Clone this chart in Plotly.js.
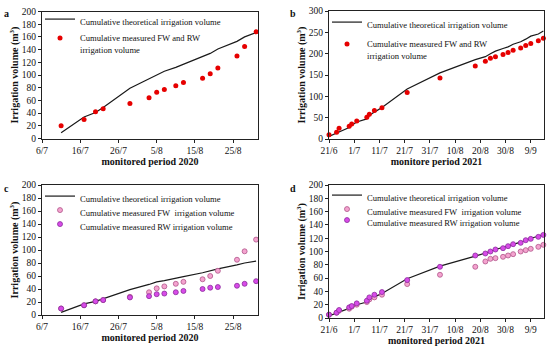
<!DOCTYPE html>
<html>
<head>
<meta charset="utf-8">
<script src="https://cdn.plot.ly/plotly-3.0.1.min.js"></script>
<style>html,body{margin:0;padding:0;background:#fff;}#chart{width:550px;height:354px;}</style>
</head>
<body>
<div id="chart"></div>
<script>
// ---- data ----
const dates2020 = ['2020-07-11','2020-07-17','2020-07-20','2020-07-22','2020-07-29','2020-08-03','2020-08-05','2020-08-07','2020-08-10','2020-08-12','2020-08-17','2020-08-19','2020-08-21','2020-08-26','2020-08-28','2020-08-31'];
const theo2020 = [9, 34, 41, 49, 79, 94, 101, 106, 112, 117, 129, 134, 141, 153, 160, 167];
const meas2020 = [20, 30, 42, 47, 55, 64, 73, 77, 83, 88, 95, 102, 111, 130, 145, 168];
const theoFWRW2020 = [4, 17, 21, 25, 39, 47, 51, 53, 56, 59, 65, 68, 71, 77, 80, 83];
const fw2020 = [10, 15, 21, 23, 28, 35, 41, 44, 48, 51, 55, 60, 68, 85, 98, 116];
const rw2020 = [10, 15, 21, 23, 27, 29, 32, 33, 35, 37, 40, 42, 43, 45, 48, 52];

const dates2021 = ['2021-06-21','2021-06-24','2021-06-25','2021-06-29','2021-06-30','2021-07-02','2021-07-06','2021-07-07','2021-07-09','2021-07-12','2021-07-22','2021-08-04','2021-08-18','2021-08-22','2021-08-24','2021-08-26','2021-08-29','2021-08-31','2021-09-02','2021-09-05','2021-09-07','2021-09-09','2021-09-12','2021-09-14'];
const theo2021 = [6, 14, 18, 27, 32, 40, 47, 55, 63, 74, 117, 155, 186, 193, 200, 206, 212, 216, 222, 228, 234, 241, 246, 253];
const meas2021 = [10, 16, 25, 30, 35, 42, 51, 58, 67, 73, 109, 143, 171, 182, 189, 193, 198, 203, 208, 213, 219, 224, 230, 236];
const theoFWRW2021 = [3, 7, 9, 14, 16, 20, 24, 28, 32, 37, 59, 78, 93, 97, 100, 103, 106, 108, 111, 114, 117, 120, 123, 126];
const fw2021 = [5, 8, 11, 14, 17, 20, 24, 28, 31, 35, 51, 65, 77, 85, 89, 90, 92, 94, 96, 100, 102, 104, 107, 110];
const rw2021 = [5, 8, 12, 16, 18, 22, 26, 31, 35, 39, 57, 77, 94, 97, 100, 103, 105, 108, 111, 113, 117, 119, 122, 125];

const panelLabels = ['a', 'b', 'c', 'd'];
const xTitles = ['monitored period 2020', 'monitore period 2021', 'monitored period 2020', 'monitored period 2021'];
const yTitle = 'Irrigation volume (m<sup>3</sup>)';
const nameTheo = 'Cumulative theoretical irrigation volume';
const nameMeas = 'Cumulative measured FW and RW<br>irrigation volume';
const nameFW = 'Cumulative measured FW\u00a0 irrigation volume';
const nameRW = 'Cumulative measured RW irrigation volume';

// ---- styles ----
const FONT = 'Liberation Serif, Times New Roman, serif';
const W = 550, H = 354;
const lineStyle = {color: '#1a1a1a', width: 1.2};
const redMarker = {color: '#e60000', size: 5};
const fwMarker = {color: '#f4a3cf', size: 5, line: {color: '#b0558a', width: 0.8}};
const rwMarker = {color: '#d84be8', size: 5, line: {color: '#8a2c9c', width: 0.8}};

function line(x, y, xa, ya, lg) {
  return {x: x, y: y, xaxis: xa, yaxis: ya, type: 'scatter', mode: 'lines', name: nameTheo, line: lineStyle, legend: lg, cliponaxis: false};
}
function pts(x, y, xa, ya, lg, name, marker) {
  return {x: x, y: y, xaxis: xa, yaxis: ya, type: 'scatter', mode: 'markers', name: name, marker: marker, legend: lg, cliponaxis: false};
}

const traces = [
  line(dates2020, theo2020, 'x', 'y', 'legend'),
  pts(dates2020, meas2020, 'x', 'y', 'legend2', nameMeas, redMarker),
  line(dates2021, theo2021, 'x2', 'y2', 'legend3'),
  pts(dates2021, meas2021, 'x2', 'y2', 'legend4', nameMeas, redMarker),
  line(dates2020, theoFWRW2020, 'x3', 'y3', 'legend5'),
  pts(dates2020, fw2020, 'x3', 'y3', 'legend6', nameFW, fwMarker),
  pts(dates2020, rw2020, 'x3', 'y3', 'legend7', nameRW, rwMarker),
  line(dates2021, theoFWRW2021, 'x4', 'y4', 'legend8'),
  pts(dates2021, fw2021, 'x4', 'y4', 'legend9', nameFW, fwMarker),
  pts(dates2021, rw2021, 'x4', 'y4', 'legend10', nameRW, rwMarker)
];

const DAY10 = 864000000;
function xax(l, r, anchor, title, tick0, range) {
  return {
    domain: [l / W, r / W], anchor: anchor, type: 'date', range: range,
    tick0: tick0, dtick: DAY10, tickformat: '%-d/%-m',
    showline: true, mirror: true, linecolor: '#222', linewidth: 1,
    ticks: 'outside', ticklen: 3, tickcolor: '#222', showgrid: false, zeroline: false,
    tickfont: {family: FONT, size: 9.5, color: '#111'},
    title: {text: '<b>' + title + '</b>', font: {family: FONT, size: 10, color: '#111'}, standoff: 0}
  };
}
function yax(t, b, anchor, max, dtick) {
  return {
    domain: [1 - b / H, 1 - t / H], anchor: anchor, range: [0, max], dtick: dtick,
    showline: true, mirror: true, linecolor: '#222', linewidth: 1,
    ticks: 'outside', ticklen: 3, tickcolor: '#222', showgrid: false, zeroline: false,
    tickfont: {family: FONT, size: 9.5, color: '#111'},
    title: {text: '<b>' + yTitle + '</b>', font: {family: FONT, size: 10, color: '#111'}, standoff: 1}
  };
}
function leg(x, y) {
  return {x: x / W, y: 1 - y / H, xanchor: 'left', yanchor: 'top', bgcolor: 'rgba(0,0,0,0)',
          font: {family: FONT, size: 8.6, color: '#111'}, valign: 'top', tracegroupgap: 0, itemclick: false};
}

const range2020 = ['2020-07-06', '2020-08-31 12:00'];
const range2021 = ['2021-06-21', '2021-09-14 06:00'];

const layout = {
  width: W, height: H, margin: {l: 0, r: 0, t: 0, b: 0},
  paper_bgcolor: '#fff', plot_bgcolor: '#fff', showlegend: true,
  font: {family: FONT, color: '#111'},
  xaxis: xax(42, 258, 'y', xTitles[0], '2020-07-06', range2020),
  yaxis: yax(11.5, 138.5, 'x', 200, 20),
  xaxis2: xax(329, 544, 'y2', xTitles[1], '2021-06-21', range2021),
  yaxis2: yax(11, 139, 'x2', 300, 50),
  xaxis3: xax(42, 258, 'y3', xTitles[2], '2020-07-06', range2020),
  yaxis3: yax(185, 315, 'x3', 200, 20),
  xaxis4: xax(329, 544, 'y4', xTitles[3], '2021-06-21', range2021),
  yaxis4: yax(185, 318, 'x4', 200, 20),
  legend: leg(40, 7),
  legend2: leg(40, 26),
  legend3: leg(327, 10),
  legend4: leg(327, 32),
  legend5: leg(40, 184),
  legend6: leg(40, 198),
  legend7: leg(40, 212),
  legend8: leg(327, 183),
  legend9: leg(327, 197),
  legend10: leg(327, 208),
  annotations: [
    {text: '<b>' + panelLabels[0] + '</b>', x: 6 / W, y: 1 - 13 / H},
    {text: '<b>' + panelLabels[1] + '</b>', x: 293 / W, y: 1 - 13 / H},
    {text: '<b>' + panelLabels[2] + '</b>', x: 6 / W, y: 1 - 188 / H},
    {text: '<b>' + panelLabels[3] + '</b>', x: 293 / W, y: 1 - 188 / H}
  ].map(a => Object.assign(a, {xref: 'paper', yref: 'paper', showarrow: false, xanchor: 'center', yanchor: 'middle', font: {family: FONT, size: 10, color: '#111'}}))
};

Plotly.newPlot('chart', traces, layout, {displayModeBar: false, staticPlot: true});
</script>
</body>
</html>
